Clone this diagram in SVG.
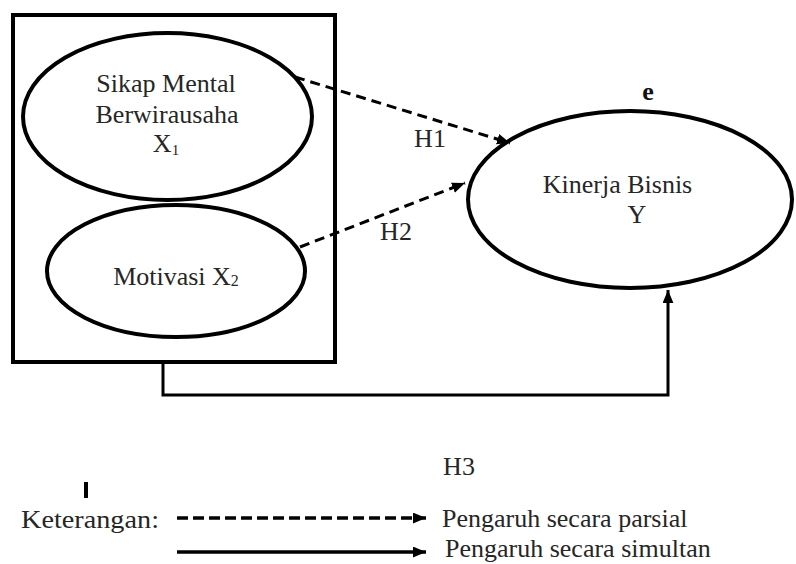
<svg xmlns="http://www.w3.org/2000/svg" width="796" height="564" viewBox="0 0 796 564">
  <style>
    text { font-family: 'Liberation Serif', 'DejaVu Serif', serif; font-size: 26px; fill: #262626; }
    .shape { fill: none; stroke: #000; stroke-width: 4; }
    .dash { fill: none; stroke: #000; stroke-width: 3; stroke-dasharray: 10 6; }
    .solid { fill: none; stroke: #000; stroke-width: 3; }
  </style>
  <defs>
    <marker id="arrow" viewBox="0 0 12 10" refX="12" refY="5" markerUnits="userSpaceOnUse" markerWidth="13" markerHeight="11" orient="auto">
      <path d="M0,0 L12,5 L0,10 z" fill="#000"/>
    </marker>
  </defs>
  <rect width="796" height="564" fill="#fff"/>

  <g id="box-x">
    <rect class="shape" x="13" y="15" width="322" height="347"/>
  </g>

  <g id="node-x1">
    <ellipse class="shape" cx="167.5" cy="116.5" rx="144.5" ry="83.5"/>
    <text x="166" y="92" text-anchor="middle">Sikap Mental</text>
    <text x="167" y="123" text-anchor="middle">Berwirausaha</text>
    <text x="166" y="152" text-anchor="middle">X<tspan style="font-size:15px" dy="3">1</tspan></text>
  </g>

  <g id="node-x2">
    <ellipse class="shape" cx="176" cy="271" rx="129" ry="66"/>
    <text x="176" y="285" text-anchor="middle">Motivasi X<tspan style="font-size:16px" dy="1">2</tspan></text>
  </g>

  <g id="node-y">
    <ellipse class="shape" cx="630" cy="199.5" rx="162" ry="88.5"/>
    <text x="617.5" y="193" text-anchor="middle">Kinerja Bisnis</text>
    <text x="637" y="223" text-anchor="middle">Y</text>
    <text x="648" y="100" text-anchor="middle" style="font-size:26px;font-weight:bold;fill:#111">e</text>
  </g>

  <g id="connectors">
    <line class="dash" x1="295" y1="77" x2="510" y2="143" marker-end="url(#arrow)"/>
    <line class="dash" x1="300" y1="247" x2="465" y2="183" marker-end="url(#arrow)"/>
    <path class="solid" d="M163,362 V395 H668 V290" marker-end="url(#arrow)"/>
  </g>

  <g id="labels">
    <text x="430" y="147" text-anchor="middle">H1</text>
    <text x="396" y="240" text-anchor="middle">H2</text>
    <text x="459" y="475" text-anchor="middle">H3</text>
  </g>

  <g id="legend">
    <rect x="84" y="482" width="4" height="16" fill="#000"/>
    <text x="21" y="528" textLength="138" lengthAdjust="spacingAndGlyphs">Keterangan:</text>
    <line x1="177" y1="518" x2="426" y2="518" stroke="#000" stroke-width="3.5" stroke-dasharray="11 5" marker-end="url(#arrow)"/>
    <text x="442" y="527">Pengaruh secara parsial</text>
    <line x1="177" y1="552" x2="426" y2="552" stroke="#000" stroke-width="3.5" marker-end="url(#arrow)"/>
    <text x="445" y="557">Pengaruh secara simultan</text>
  </g>
</svg>
